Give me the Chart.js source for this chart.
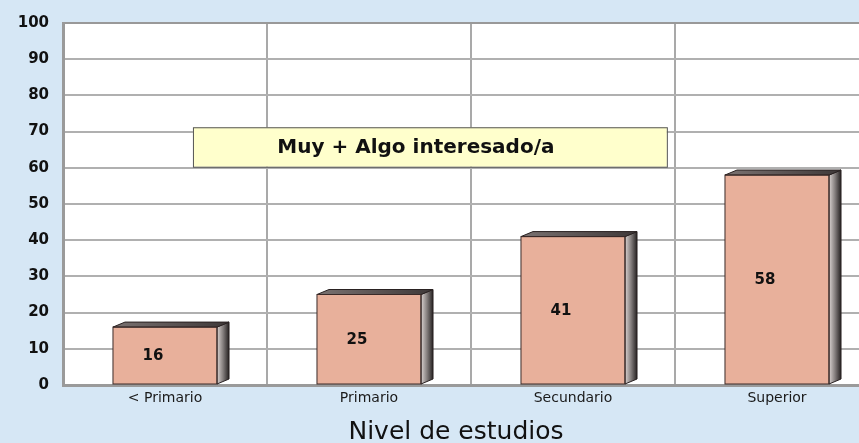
<!DOCTYPE html>
<html lang="es">
<head>
  <meta charset="UTF-8" />
  <title>Nivel de estudios</title>
  <script src="https://cdn.jsdelivr.net/npm/chart.js"></script>
  <style>
    body {
      margin: 0;
      overflow: hidden;
      background: #d6e7f5;
      font-family: 'DejaVu Sans', Arial, sans-serif;
    }
    .wrap {
      width: 890px;
      height: 443px;
    }
  </style>
</head>
<body>
  <div class="wrap">
    <canvas id="estudios" width="890" height="443"></canvas>
  </div>

  <script>
    // datos
    const categorias = ['< Primario', 'Primario', 'Secundario', 'Superior'];
    const valores = [16, 25, 41, 58];
    const ticksY = [0, 10, 20, 30, 40, 50, 60, 70, 80, 90, 100];
    const rotulo = 'Muy + Algo interesado/a';
    const tituloX = 'Nivel de estudios';

    const FONT = "'DejaVu Sans', Arial, sans-serif";

    // fondo blanco del area de trazado
    const fondoPlot = {
      id: 'fondoPlot',
      beforeDraw(chart) {
        const { ctx, chartArea: a } = chart;
        ctx.save();
        ctx.fillStyle = '#d6e7f5';
        ctx.fillRect(0, 0, chart.width, chart.height);
        ctx.fillStyle = '#ffffff';
        ctx.fillRect(a.left, a.top, a.right - a.left, a.bottom - a.top);
        ctx.restore();
      }
    };

    // caras laterales y superiores (efecto 3D) + etiquetas
    const barras3d = {
      id: 'barras3d',
      afterDatasetsDraw(chart) {
        const ctx = chart.ctx;
        const meta = chart.getDatasetMeta(0);
        const dx = 12, dy = 5;
        meta.data.forEach((bar, i) => {
          const p = bar.getProps(['x', 'y', 'base', 'width'], true);
          const l = p.x - p.width / 2;
          const r = p.x + p.width / 2;
          ctx.save();
          // lateral
          const g = ctx.createLinearGradient(r, 0, r + dx, 0);
          g.addColorStop(0, '#d9d2d0');
          g.addColorStop(0.5, '#847e7d');
          g.addColorStop(1, '#262222');
          ctx.beginPath();
          ctx.moveTo(r, p.y);
          ctx.lineTo(r + dx, p.y - dy);
          ctx.lineTo(r + dx, p.base - dy);
          ctx.lineTo(r, p.base);
          ctx.closePath();
          ctx.fillStyle = g;
          ctx.fill();
          ctx.strokeStyle = '#2a2222';
          ctx.lineWidth = 1;
          ctx.stroke();
          // tapa
          const t = ctx.createLinearGradient(l, 0, r + dx, 0);
          t.addColorStop(0, '#7a7271');
          t.addColorStop(1, '#3e3838');
          ctx.beginPath();
          ctx.moveTo(l, p.y);
          ctx.lineTo(l + dx, p.y - dy);
          ctx.lineTo(r + dx, p.y - dy);
          ctx.lineTo(r, p.y);
          ctx.closePath();
          ctx.fillStyle = t;
          ctx.fill();
          ctx.stroke();
          // frente, contorno
          ctx.strokeStyle = '#3a2a28';
          ctx.strokeRect(l, p.y, p.width, p.base - p.y);
          // etiqueta
          ctx.fillStyle = '#111';
          ctx.font = 'bold 15px ' + FONT;
          ctx.textAlign = 'center';
          ctx.textBaseline = 'middle';
          ctx.fillText(String(valores[i]), p.x - 12, (p.y + p.base) / 2 + 1);
          ctx.restore();
        });
      }
    };

    // recuadro amarillo y titulo del eje X
    const recuadro = {
      id: 'recuadro',
      afterDraw(chart) {
        const { ctx, scales } = chart;
        const x0 = scales.x.getPixelForValue(0.137);
        const x1 = scales.x.getPixelForValue(2.46);
        const y0 = scales.y.getPixelForValue(71.2);
        const y1 = scales.y.getPixelForValue(60.3);
        ctx.save();
        ctx.fillStyle = '#ffffcc';
        ctx.fillRect(x0, y0, x1 - x0, y1 - y0);
        ctx.strokeStyle = '#555';
        ctx.lineWidth = 1;
        ctx.strokeRect(x0 + 0.5, y0 + 0.5, x1 - x0, y1 - y0);
        ctx.fillStyle = '#111';
        ctx.font = 'bold 20px ' + FONT;
        ctx.textAlign = 'center';
        ctx.textBaseline = 'middle';
        ctx.fillText(rotulo, (x0 + x1) / 2 - 14, (y0 + y1) / 2 + 1);

        // titulo, algo a la izquierda del centro como en el original
        const cx = (scales.x.getPixelForValue(1) + scales.x.getPixelForValue(2)) / 2 - 15;
        ctx.font = '25px ' + FONT;
        ctx.textBaseline = 'alphabetic';
        ctx.fillText(tituloX, cx, chart.height - 4);
        ctx.restore();
      }
    };

    new Chart(document.getElementById('estudios'), {
      type: 'bar',
      data: {
        labels: categorias,
        datasets: [{
          data: valores,
          backgroundColor: '#e8b09b',
          borderWidth: 0,
          categoryPercentage: 1,
          barPercentage: 0.51
        }]
      },
      options: {
        responsive: false,
        animation: false,
        layout: { padding: { top: 20, right: 11, left: 0, bottom: 0 } },
        plugins: {
          legend: { display: false },
          tooltip: { enabled: false }
        },
        scales: {
          x: {
            afterFit(s) { s.height = 58; },
            grid: { color: '#a9a9a9', lineWidth: 2, drawTicks: false },
            border: { color: '#9a9a9a', width: 3 },
            ticks: { color: '#1a1a1a', padding: 5, font: { family: FONT, size: 14 } }
          },
          y: {
            min: 0,
            max: 100,
            afterFit(s) { s.width = 63; },
            afterBuildTicks(s) { s.ticks = ticksY.map(v => ({ value: v })); },
            grid: {
              drawTicks: false,
              color: c => c.tick.value === 100 ? '#999999' : '#b0b0b0',
              lineWidth: 2
            },
            border: { color: '#9a9a9a', width: 3 },
            ticks: { color: '#111', padding: 14, font: { family: FONT, size: 15, weight: 'bold' } }
          }
        }
      },
      plugins: [fondoPlot, barras3d, recuadro]
    });
  </script>
</body>
</html>
